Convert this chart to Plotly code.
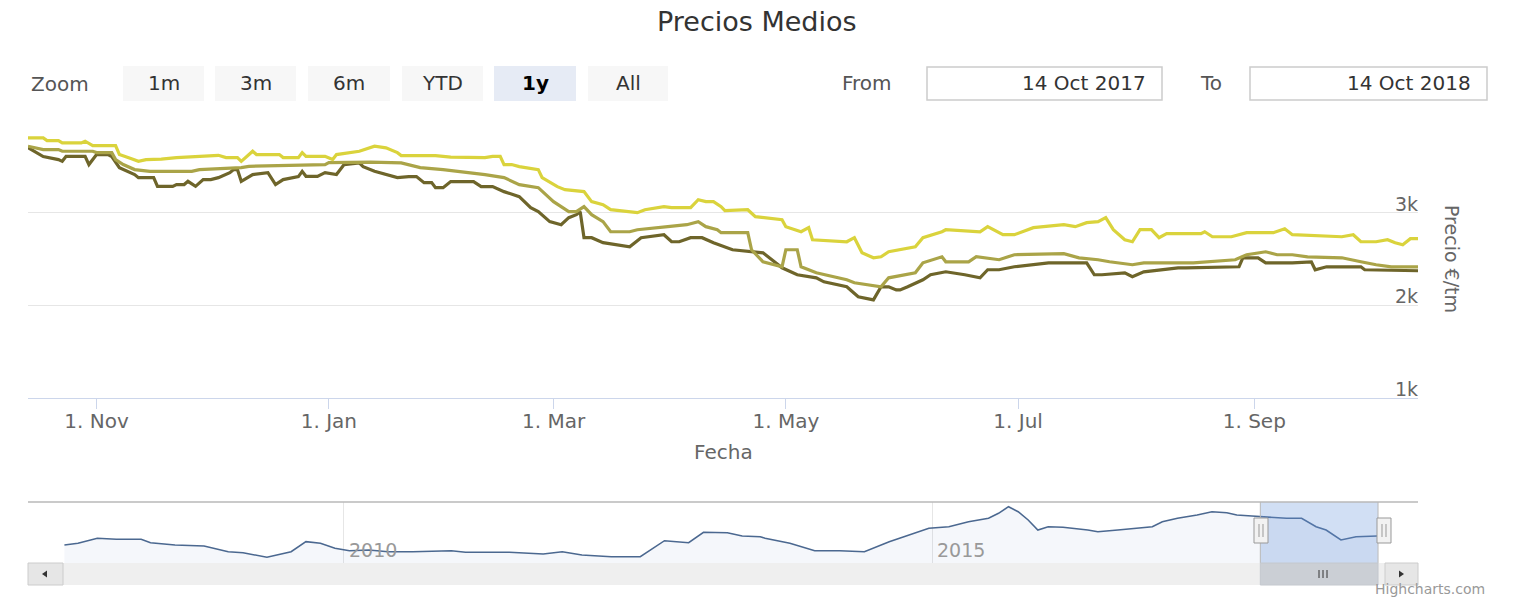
import plotly.graph_objects as go

# ---------------- data ----------------
yellow_dates = ["2017-10-14", "2017-10-18", "2017-10-19", "2017-10-22", "2017-10-23", "2017-10-28", "2017-10-29",
                "2017-10-31", "2017-11-06", "2017-11-07", "2017-11-10", "2017-11-12", "2017-11-14", "2017-11-18",
                "2017-11-22", "2017-11-26", "2017-11-29", "2017-12-03", "2017-12-05", "2017-12-08", "2017-12-09",
                "2017-12-12", "2017-12-13", "2017-12-19", "2017-12-20", "2017-12-24", "2017-12-25", "2017-12-26",
                "2017-12-31", "2018-01-02", "2018-01-03", "2018-01-09", "2018-01-13", "2018-01-16", "2018-01-19",
                "2018-01-20", "2018-01-29", "2018-02-02", "2018-02-11", "2018-02-13", "2018-02-15", "2018-02-16",
                "2018-02-18", "2018-02-20", "2018-02-25", "2018-02-26", "2018-03-02", "2018-03-04", "2018-03-09",
                "2018-03-11", "2018-03-14", "2018-03-16", "2018-03-23", "2018-03-25", "2018-03-30", "2018-04-01",
                "2018-04-06", "2018-04-08", "2018-04-10", "2018-04-12", "2018-04-14", "2018-04-15", "2018-04-21",
                "2018-04-23", "2018-04-30", "2018-05-01", "2018-05-05", "2018-05-07", "2018-05-08", "2018-05-17",
                "2018-05-19", "2018-05-21", "2018-05-24", "2018-05-26", "2018-05-28", "2018-06-04", "2018-06-06",
                "2018-06-11", "2018-06-12", "2018-06-21", "2018-06-23", "2018-06-27", "2018-06-30", "2018-07-05",
                "2018-07-13", "2018-07-16", "2018-07-19", "2018-07-22", "2018-07-24", "2018-07-26", "2018-07-29",
                "2018-07-31", "2018-08-02", "2018-08-05", "2018-08-07", "2018-08-09", "2018-08-18", "2018-08-19",
                "2018-08-21", "2018-08-26", "2018-08-30", "2018-09-06", "2018-09-09", "2018-09-11", "2018-09-24",
                "2018-09-27", "2018-09-29", "2018-10-03", "2018-10-06", "2018-10-08", "2018-10-10", "2018-10-12",
                "2018-10-14"]
yellow_vals = [3807, 3807, 3778, 3778, 3753, 3753, 3771, 3724, 3724, 3627, 3584, 3554, 3573, 3578,
               3594, 3605, 3605, 3619, 3594, 3594, 3554, 3663, 3627, 3627, 3594, 3594, 3648, 3608,
               3608, 3573, 3627, 3663, 3717, 3699, 3648, 3616, 3616, 3600, 3594, 3608, 3608, 3519,
               3519, 3497, 3465, 3378, 3281, 3248, 3227, 3119, 3086, 3032, 3000, 3032, 3065, 3054,
               3054, 3140, 3119, 3119, 3065, 3022, 3032, 2957, 2924, 2849, 2794, 2838, 2708, 2686,
               2730, 2567, 2513, 2524, 2578, 2632, 2730, 2794, 2816, 2794, 2849, 2762, 2762, 2838,
               2870, 2849, 2892, 2903, 2946, 2816, 2708, 2686, 2816, 2816, 2730, 2773, 2773, 2794,
               2740, 2740, 2784, 2784, 2827, 2762, 2740, 2762, 2686, 2686, 2708, 2676, 2654, 2719,
               2719]

olive_dates = ["2017-10-14", "2017-10-18", "2017-10-22", "2017-10-23", "2017-10-31", "2017-11-01", "2017-11-05",
               "2017-11-06", "2017-11-08", "2017-11-11", "2017-11-15", "2017-11-26", "2017-11-28", "2017-12-09",
               "2017-12-11", "2017-12-31", "2018-01-01", "2018-01-09", "2018-01-12", "2018-01-20", "2018-01-25",
               "2018-01-31", "2018-02-07", "2018-02-11", "2018-02-16", "2018-02-20", "2018-02-25", "2018-03-01",
               "2018-03-05", "2018-03-07", "2018-03-09", "2018-03-11", "2018-03-14", "2018-03-16", "2018-03-21",
               "2018-03-23", "2018-03-31", "2018-04-05", "2018-04-08", "2018-04-10", "2018-04-13", "2018-04-14",
               "2018-04-21", "2018-04-22", "2018-04-25", "2018-04-30", "2018-05-01", "2018-05-04", "2018-05-05",
               "2018-05-09", "2018-05-17", "2018-05-19", "2018-05-26", "2018-05-28", "2018-06-04", "2018-06-06",
               "2018-06-11", "2018-06-12", "2018-06-18", "2018-06-20", "2018-06-26", "2018-06-30", "2018-07-13",
               "2018-07-17", "2018-07-22", "2018-07-25", "2018-07-31", "2018-08-03", "2018-08-16", "2018-08-20",
               "2018-08-27", "2018-08-30", "2018-09-04", "2018-09-07", "2018-09-11", "2018-09-15", "2018-09-24",
               "2018-09-29", "2018-10-03", "2018-10-07", "2018-10-14"]
olive_vals = [3717, 3681, 3681, 3663, 3663, 3648, 3648, 3573, 3519, 3465, 3446, 3446, 3465, 3486,
              3500, 3519, 3540, 3540, 3546, 3537, 3486, 3465, 3432, 3411, 3378, 3303, 3270, 3119,
              3011, 3011, 3065, 2978, 2903, 2794, 2794, 2816, 2849, 2870, 2903, 2849, 2816, 2784,
              2784, 2600, 2470, 2416, 2600, 2600, 2416, 2351, 2276, 2243, 2200, 2297, 2351, 2459,
              2524, 2470, 2470, 2524, 2492, 2546, 2557, 2513, 2492, 2470, 2438, 2459, 2459, 2470,
              2492, 2546, 2578, 2546, 2546, 2524, 2513, 2470, 2438, 2416, 2416]

dark_dates = ["2017-10-14", "2017-10-18", "2017-10-22", "2017-10-23", "2017-10-24", "2017-10-29", "2017-10-30",
              "2017-11-01", "2017-11-04", "2017-11-05", "2017-11-07", "2017-11-11", "2017-11-12", "2017-11-16",
              "2017-11-17", "2017-11-21", "2017-11-22", "2017-11-24", "2017-11-25", "2017-11-27", "2017-11-29",
              "2017-12-01", "2017-12-03", "2017-12-06", "2017-12-07", "2017-12-08", "2017-12-09", "2017-12-12",
              "2017-12-16", "2017-12-18", "2017-12-20", "2017-12-24", "2017-12-25", "2017-12-26", "2017-12-29",
              "2017-12-31", "2018-01-03", "2018-01-05", "2018-01-09", "2018-01-10", "2018-01-13", "2018-01-16",
              "2018-01-19", "2018-01-22", "2018-01-24", "2018-01-26", "2018-01-28", "2018-01-29", "2018-01-31",
              "2018-02-02", "2018-02-08", "2018-02-10", "2018-02-13", "2018-02-16", "2018-02-20", "2018-02-23",
              "2018-02-25", "2018-02-28", "2018-03-03", "2018-03-05", "2018-03-07", "2018-03-08", "2018-03-09",
              "2018-03-11", "2018-03-14", "2018-03-21", "2018-03-24", "2018-03-30", "2018-04-01", "2018-04-03",
              "2018-04-06", "2018-04-09", "2018-04-12", "2018-04-17", "2018-04-25", "2018-04-28", "2018-04-30",
              "2018-05-04", "2018-05-09", "2018-05-11", "2018-05-17", "2018-05-20", "2018-05-24", "2018-05-26",
              "2018-05-28", "2018-05-30", "2018-05-31", "2018-06-02", "2018-06-06", "2018-06-08", "2018-06-12",
              "2018-06-17", "2018-06-21", "2018-06-23", "2018-06-26", "2018-06-30", "2018-07-09", "2018-07-19",
              "2018-07-21", "2018-07-23", "2018-07-29", "2018-07-31", "2018-08-03", "2018-08-12", "2018-08-14",
              "2018-08-28", "2018-08-29", "2018-09-02", "2018-09-04", "2018-09-11", "2018-09-16", "2018-09-17",
              "2018-09-20", "2018-09-29", "2018-09-30", "2018-10-14"]
dark_vals = [3703, 3605, 3573, 3554, 3608, 3608, 3519, 3627, 3627, 3605, 3486, 3411, 3378, 3378,
             3284, 3284, 3303, 3303, 3338, 3284, 3357, 3357, 3378, 3432, 3465, 3465, 3338, 3411,
             3432, 3303, 3357, 3389, 3446, 3392, 3392, 3432, 3411, 3519, 3537, 3497, 3446, 3411,
             3378, 3389, 3389, 3324, 3324, 3270, 3270, 3335, 3335, 3281, 3281, 3227, 3173, 3054,
             3011, 2903, 2870, 2946, 2978, 3011, 2730, 2730, 2676, 2632, 2730, 2762, 2686, 2686,
             2730, 2730, 2676, 2600, 2567, 2470, 2405, 2330, 2297, 2254, 2200, 2092, 2059, 2200,
             2200, 2167, 2167, 2200, 2276, 2330, 2362, 2330, 2297, 2384, 2384, 2416, 2459, 2459,
             2330, 2330, 2351, 2308, 2362, 2405, 2405, 2416, 2513, 2513, 2459, 2459, 2470, 2384,
             2416, 2416, 2384, 2373]

nav_dates = ["2007-08-19", "2007-09-30", "2007-11-29", "2008-01-27", "2008-04-13", "2008-05-12", "2008-07-27",
             "2008-10-25", "2009-01-08", "2009-02-23", "2009-05-08", "2009-06-22", "2009-07-22", "2009-09-06",
             "2009-10-21", "2009-12-05", "2010-01-19", "2010-03-20", "2010-05-19", "2010-08-03", "2010-12-01",
             "2011-01-14", "2011-05-30", "2011-09-12", "2011-11-10", "2012-01-10", "2012-04-10", "2012-07-09",
             "2012-09-22", "2012-12-06", "2013-01-21", "2013-04-05", "2013-05-21", "2013-07-16", "2013-07-31",
             "2013-10-16", "2014-01-01", "2014-03-19", "2014-06-04", "2014-08-20", "2014-11-05", "2014-12-21",
             "2015-02-21", "2015-04-23", "2015-06-24", "2015-07-25", "2015-08-25", "2015-09-24", "2015-10-25",
             "2015-11-24", "2015-12-26", "2016-02-10", "2016-04-27", "2016-05-28", "2016-07-29", "2016-09-29",
             "2016-11-13", "2016-12-14", "2017-01-30", "2017-04-01", "2017-05-17", "2017-07-02", "2017-08-02",
             "2017-09-18", "2017-11-03", "2018-01-03", "2018-02-19", "2018-04-05", "2018-05-06", "2018-06-21",
             "2018-08-07", "2018-09-23", "2018-10-12"]
nav_vals = [1700, 1819, 2169, 2099, 2099, 1861, 1700, 1630, 1231, 1161, 839, 1070, 1231, 1931,
            1819, 1469, 1301, 1350, 1231, 1231, 1301, 1189, 1189, 1070, 1231, 1000, 881, 881,
            2001, 1861, 2589, 2561, 2330, 2281, 2169, 1819, 1301, 1301, 1231, 1931, 2519, 2869,
            2981, 3331, 3569, 3919, 4381, 4031, 3450, 2750, 2981, 2939, 2750, 2631, 2750, 2869,
            2981, 3331, 3569, 3800, 4031, 3961, 3800, 3730, 3639, 3569, 3569, 2981, 2750, 2050,
            2281, 2330, 2330]

month_ticks = ["2017-11-01", "2018-01-01", "2018-03-01", "2018-05-01", "2018-07-01", "2018-09-01"]
month_labels = ["1. Nov", "1. Jan", "1. Mar", "1. May", "1. Jul", "1. Sep"]
price_ticks = [1000, 2000, 3000, 4000]
price_labels = ["1k", "2k", "3k", ""]
nav_year_ticks = ["2010-01-01", "2015-01-01"]
nav_year_labels = ["2010", "2015"]
zoom_buttons = ["1m", "3m", "6m", "YTD", "1y", "All"]
selected_button = "1y"
range_start = "2017-10-14"
range_end = "2018-10-14"
nav_range = ["2007-04-28", "2019-02-15"]
from_label = "14 Oct 2017"
to_label = "14 Oct 2018"

# ---------------- layout helpers (pixel -> paper) ----------------
W, H = 1519, 598
L, R = 28, 1418
FONT = "DejaVu Sans"


def fx(p):
    return (p - L) / (R - L)


def fy(p):
    return 1 - p / H


fig = go.Figure()

series_style = [
    (dark_dates, dark_vals, "#6e652a"),
    (olive_dates, olive_vals, "#aaa448"),
    (yellow_dates, yellow_vals, "#dad33c"),
]
for d, v, c in series_style:
    fig.add_trace(go.Scatter(x=d, y=v, mode="lines", line=dict(color=c, width=3.2),
                             xaxis="x", yaxis="y", showlegend=False, hoverinfo="skip"))

fig.add_trace(go.Scatter(x=nav_dates, y=nav_vals, mode="lines", line=dict(color="#4b6890", width=1.6),
                         fill="tozeroy", fillcolor="rgba(51,92,173,0.05)",
                         xaxis="x2", yaxis="y2", showlegend=False, hoverinfo="skip"))

shapes = []
annotations = []

# title
annotations.append(dict(text="Precios Medios", x=fx(757), y=fy(22), xref="paper", yref="paper",
                        xanchor="center", yanchor="middle", showarrow=False,
                        font=dict(family=FONT, size=27, color="#333333")))

# range selector
annotations.append(dict(text="Zoom", x=fx(29), y=fy(84), xref="paper", yref="paper",
                        xanchor="left", yanchor="middle", showarrow=False,
                        font=dict(family=FONT, size=20, color="#555555")))
button_px = [(123, 204), (215, 296), (308, 390), (402, 483), (494, 576), (588, 668)]
for (x0, x1), lab in zip(button_px, zoom_buttons):
    sel = lab == selected_button
    shapes.append(dict(type="rect", xref="paper", yref="paper", x0=fx(x0), x1=fx(x1),
                       y0=fy(101), y1=fy(66), fillcolor="#e6ebf5" if sel else "#f7f7f7",
                       line=dict(width=0)))
    annotations.append(dict(text=f"<b>{lab}</b>" if sel else lab, x=fx((x0 + x1) / 2), y=fy(83),
                            xref="paper", yref="paper", xanchor="center", yanchor="middle",
                            showarrow=False,
                            font=dict(family=FONT, size=20, color="#000000" if sel else "#333333")))

# from / to inputs
annotations.append(dict(text="From", x=fx(867), y=fy(83), xref="paper", yref="paper",
                        xanchor="center", yanchor="middle", showarrow=False,
                        font=dict(family=FONT, size=20, color="#555555")))
annotations.append(dict(text="To", x=fx(1211), y=fy(83), xref="paper", yref="paper",
                        xanchor="center", yanchor="middle", showarrow=False,
                        font=dict(family=FONT, size=20, color="#555555")))
for (x0, x1), lab in [((927, 1162), from_label), ((1250, 1487), to_label)]:
    shapes.append(dict(type="rect", xref="paper", yref="paper", x0=fx(x0), x1=fx(x1),
                       y0=fy(100), y1=fy(67), fillcolor="white", line=dict(color="#cccccc", width=1.5)))
    annotations.append(dict(text=lab, x=fx(x1 - 14), y=fy(83), xref="paper", yref="paper",
                            xanchor="right", yanchor="middle", showarrow=False,
                            font=dict(family=FONT, size=20, color="#333333")))

# y tick labels (sit just above their grid lines, right-aligned)
for v, lab in zip(price_ticks, price_labels):
    if lab:
        annotations.append(dict(text=lab, x=1, y=v, xref="paper", yref="y", xanchor="right",
                                yanchor="middle", yshift=9, xshift=2, showarrow=False,
                                font=dict(family=FONT, size=19, color="#666666")))

# axis titles
annotations.append(dict(text="Fecha", x=0.5, y=fy(452), xref="paper", yref="paper",
                        xanchor="center", yanchor="middle", showarrow=False,
                        font=dict(family=FONT, size=20, color="#666666")))
annotations.append(dict(text="Precio €/tm", x=fx(1452), y=fy(259), xref="paper", yref="paper",
                        xanchor="center", yanchor="middle", showarrow=False, textangle=90,
                        font=dict(family=FONT, size=19, color="#666666")))

# navigator
nav_top, nav_bot = 502, 563
shapes.append(dict(type="rect", xref="x2", yref="paper", x0=range_start, x1=range_end,
                   y0=fy(nav_bot), y1=fy(nav_top), fillcolor="rgba(102,150,220,0.30)",
                   line=dict(width=0), layer="above"))
shapes.append(dict(type="line", xref="paper", yref="paper", x0=0, x1=1, y0=fy(nav_top), y1=fy(nav_top),
                   line=dict(color="#b8b8b8", width=1.5)))
for d in (range_start, range_end):
    shapes.append(dict(type="line", xref="x2", yref="paper", x0=d, x1=d, y0=fy(nav_bot), y1=fy(nav_top),
                       line=dict(color="#b8b8b8", width=1)))
for yl, lab in zip(nav_year_ticks, nav_year_labels):
    annotations.append(dict(text=lab, x=yl, y=fy(550), xref="x2", yref="paper", xanchor="left",
                            yanchor="middle", xshift=3, showarrow=False,
                            font=dict(family=FONT, size=19, color="#999999")))

# scrollbar
sb_top, sb_bot = 563, 585
shapes.append(dict(type="rect", xref="paper", yref="paper", x0=0, x1=1, y0=fy(sb_bot), y1=fy(sb_top),
                   fillcolor="#efefef", line=dict(width=0)))
shapes.append(dict(type="rect", xref="x2", yref="paper", x0=range_start, x1=range_end,
                   y0=fy(sb_bot), y1=fy(sb_top), fillcolor="#cbcfd5", line=dict(color="#c4c8ce", width=1)))
shapes.append(dict(type="rect", xref="paper", yref="paper", x0=fx(28), x1=fx(63), y0=fy(sb_bot),
                   y1=fy(sb_top), fillcolor="#e6e6e6", line=dict(color="#cccccc", width=1)))
shapes.append(dict(type="rect", xref="paper", yref="paper", x0=fx(1385), x1=fx(1418), y0=fy(sb_bot),
                   y1=fy(sb_top), fillcolor="#e6e6e6", line=dict(color="#cccccc", width=1)))
shapes.append(dict(type="path", xref="paper", yref="paper",
                   path=f"M {fx(42)},{fy(574)} L {fx(47)},{fy(570.5)} L {fx(47)},{fy(577.5)} Z",
                   fillcolor="#333333", line=dict(width=0)))
shapes.append(dict(type="path", xref="paper", yref="paper",
                   path=f"M {fx(1404)},{fy(574)} L {fx(1399)},{fy(570.5)} L {fx(1399)},{fy(577.5)} Z",
                   fillcolor="#333333", line=dict(width=0)))
for xr in (1319, 1323, 1327):
    shapes.append(dict(type="line", xref="paper", yref="paper", x0=fx(xr), x1=fx(xr), y0=fy(578),
                       y1=fy(570), line=dict(color="#333333", width=1)))

# handles
for xh in (1261, 1384):
    shapes.append(dict(type="rect", xref="paper", yref="paper", x0=fx(xh - 7), x1=fx(xh + 7),
                       y0=fy(543), y1=fy(518), fillcolor="#f2f2f2", line=dict(color="#999999", width=1)))
    for dx in (-2, 2):
        shapes.append(dict(type="line", xref="paper", yref="paper", x0=fx(xh + dx), x1=fx(xh + dx),
                           y0=fy(537), y1=fy(524), line=dict(color="#999999", width=1)))

# credits
annotations.append(dict(text="Highcharts.com", x=fx(1486), y=0, xref="paper", yref="paper",
                        xanchor="right", yanchor="bottom", showarrow=False, borderpad=0,
                        font=dict(family=FONT, size=14, color="#999999")))

fig.update_layout(
    width=W, height=H,
    margin=dict(l=L, r=W - R, t=0, b=0, pad=0),
    paper_bgcolor="white", plot_bgcolor="rgba(0,0,0,0)",
    font=dict(family=FONT, color="#666666"),
    showlegend=False,
    xaxis=dict(domain=[0, 1], anchor="y", range=[range_start, range_end], type="date",
               showgrid=False, zeroline=False, showline=True, linecolor="#ccd6eb", linewidth=1,
               ticks="outside", ticklen=10, tickcolor="#ccd6eb", tickwidth=1,
               tickvals=month_ticks, ticktext=month_labels, ticklabelstandoff=-5,
               tickfont=dict(family=FONT, size=20, color="#666666")),
    yaxis=dict(domain=[fy(398), fy(120)], anchor="x", range=[1000, 4000], side="right",
               showgrid=True, gridcolor="#e6e6e6", gridwidth=1, zeroline=False, showline=False,
               tickvals=price_ticks, showticklabels=False, ticks=""),
    xaxis2=dict(domain=[0, 1], anchor="y2", range=nav_range, type="date",
                showgrid=True, gridcolor="#e6e6e6", gridwidth=1, tickvals=nav_year_ticks,
                showticklabels=False, ticks="", zeroline=False, showline=False),
    yaxis2=dict(domain=[fy(nav_bot), fy(nav_top)], anchor="x2", range=[440, 4710],
                visible=False, showgrid=False),
    shapes=shapes,
    annotations=annotations,
)

fig.write_html("out.html", config={"displayModeBar": False},
               post_script="document.body.style.margin='0';document.body.style.overflow='hidden';")
